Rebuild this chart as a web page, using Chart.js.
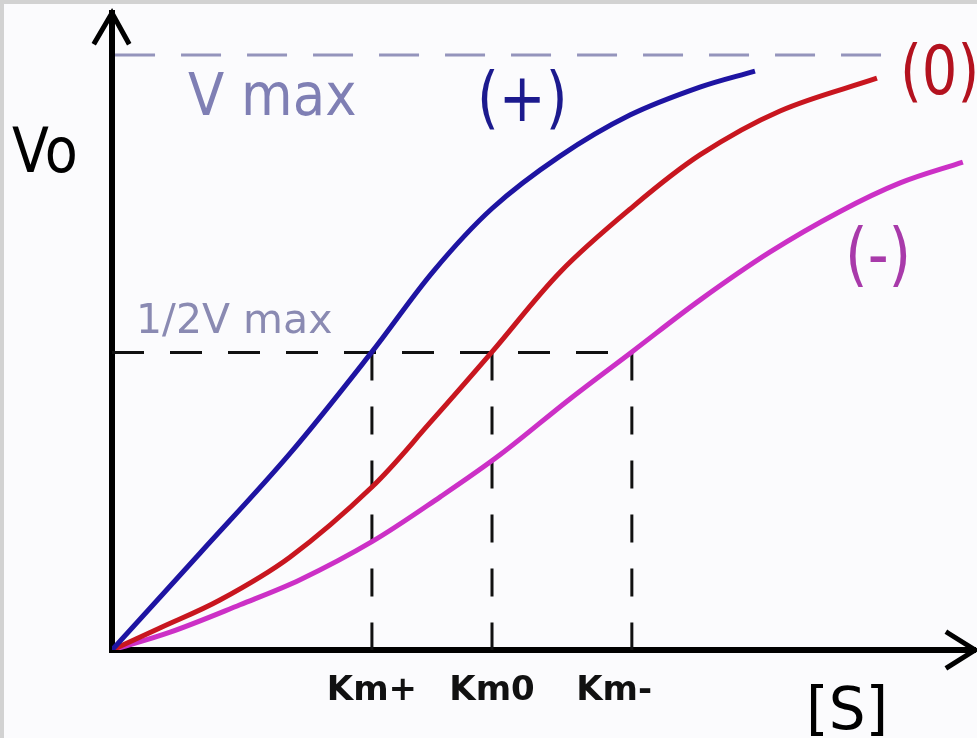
<!DOCTYPE html>
<html>
<head>
<meta charset="utf-8">
<script src="https://cdn.jsdelivr.net/npm/chart.js@4.4.1/dist/chart.umd.min.js"></script>
<style>
  html, body { margin: 0; padding: 0; background: #fbfbfd; }
  #wrap { width: 977px; height: 738px; position: relative; }
</style>
</head>
<body>
<div id="wrap"><canvas id="kinetics"></canvas></div>
<script>
'use strict';

// [S] in units of Km0, Vo as a fraction of Vmax
const S_ACT = [0, 0.232, 0.468, 0.684, 0.845, 1.0, 1.179, 1.363, 1.547, 1.692];
const V_ACT = [0, 0.163, 0.330, 0.501, 0.636, 0.742, 0.830, 0.899, 0.946, 0.973];

const S_NONE = [0, 0.126, 0.284, 0.468, 0.684, 0.837, 1.0, 1.179, 1.363, 1.547, 1.758, 2.013];
const V_NONE = [0, 0.037, 0.084, 0.156, 0.274, 0.382, 0.501, 0.635, 0.741, 0.832, 0.906, 0.961];

const S_INH = [0, 0.153, 0.337, 0.495, 0.684, 0.863, 1.021, 1.205, 1.368, 1.547, 1.732, 1.916, 2.074, 2.239];
const V_INH = [0, 0.030, 0.076, 0.118, 0.182, 0.257, 0.328, 0.422, 0.501, 0.588, 0.669, 0.737, 0.785, 0.820];

const KM_VALUES = [0.684, 1.0, 1.368];
const KM_LABELS = ['Km+', 'Km0', 'Km-   '];

const VMAX = 1.0;
const HALF_VMAX = 0.5;
const VMAX_LINE = [0.008, 2.07];
const S_MAX = 2.271;
const V_MAX_AXIS = 1.0706;

const toPts = (xs, ys) => xs.map((x, i) => ({ x: x, y: ys[i] }));

const curve = (label, xs, ys, color) => ({
  label: label,
  data: toPts(xs, ys),
  borderColor: color,
  borderWidth: 5,
  showLine: true,
  pointRadius: 0,
  tension: 0.35,
  order: 1,
});

const dashed = (data, color, width, dash) => ({
  data: data,
  borderColor: color,
  borderWidth: width,
  borderDash: dash,
  showLine: true,
  pointRadius: 0,
  order: 2,
});

const datasets = [
  curve('(+)', S_ACT, V_ACT, '#1e14a2'),
  curve('(0)', S_NONE, V_NONE, '#c8161f'),
  curve('(-)', S_INH, V_INH, '#cc30c6'),
  dashed([{ x: VMAX_LINE[0], y: VMAX }, { x: VMAX_LINE[1], y: VMAX }], '#9494bc', 3, [40, 26]),
  dashed([{ x: 0, y: HALF_VMAX }, { x: KM_VALUES[2], y: HALF_VMAX }], '#111', 3, [32, 26]),
];
KM_VALUES.forEach((k) => {
  datasets.push(dashed([{ x: k, y: HALF_VMAX }, { x: k, y: 0 }], '#111', 3, [28, 26]));
});

// free text on the figure
const NOTES = [
  { text: 'Vo', x: 12, y: 172, size: 54, sy: 1.15, color: '#000' },
  { text: 'V max', x: 188, y: 115, size: 53, sy: 1.12, color: '#7f7fb4' },
  { text: '(+)', x: 477, y: 121, size: 56, sy: 1.2, color: '#1c1a8e' },
  { text: '(0)', x: 900, y: 94, size: 56, sy: 1.2, color: '#b3121f' },
  { text: '(-)', x: 845, y: 278, size: 58, sy: 1.2, color: '#a83aaa' },
  { text: '1/2V max', x: 136, y: 333, size: 41, sy: 1, color: '#8a8ab2' },
  { text: '[S]', x: 806, y: 729, size: 58, sy: 1, color: '#000' },
];

const decor = {
  id: 'decor',
  beforeDraw(chart) {
    const ctx = chart.ctx;
    ctx.save();
    ctx.fillStyle = '#fbfbfd';
    ctx.fillRect(0, 0, chart.width, chart.height);
    ctx.fillStyle = '#d2d2d2';
    ctx.fillRect(0, 0, chart.width, 4);
    ctx.fillRect(0, 0, 4, chart.height);
    ctx.restore();
  },
  afterDraw(chart) {
    const ctx = chart.ctx;
    const a = chart.chartArea;
    ctx.save();
    ctx.strokeStyle = '#000';
    ctx.lineWidth = 5;
    ctx.lineCap = 'square';
    ctx.beginPath();
    ctx.moveTo(a.left - 17, a.top + 29);
    ctx.lineTo(a.left, a.top);
    ctx.lineTo(a.left + 16, a.top + 29);
    ctx.moveTo(a.right - 27, a.bottom - 17);
    ctx.lineTo(a.right, a.bottom);
    ctx.lineTo(a.right - 27, a.bottom + 17);
    ctx.stroke();

    ctx.textBaseline = 'alphabetic';
    ctx.textAlign = 'left';
    NOTES.forEach((n) => {
      ctx.save();
      ctx.translate(n.x, n.y);
      ctx.scale(1, n.sy);
      ctx.font = n.size + 'px "DejaVu Sans"';
      ctx.fillStyle = n.color;
      ctx.fillText(n.text, 0, 0);
      ctx.restore();
    });
    ctx.restore();
  },
};

new Chart(document.getElementById('kinetics').getContext('2d'), {
  type: 'scatter',
  data: { datasets: datasets },
  options: {
    responsive: true,
    maintainAspectRatio: false,
    animation: false,
    layout: { padding: { top: 13, right: 2, left: 0, bottom: 0 } },
    plugins: { legend: { display: false }, tooltip: { enabled: false } },
    scales: {
      x: {
        type: 'linear',
        min: 0,
        max: S_MAX,
        grid: { display: false, drawTicks: false },
        border: { display: true, color: '#000', width: 6 },
        afterBuildTicks: (scale) => { scale.ticks = KM_VALUES.map((v) => ({ value: v })); },
        afterFit: (scale) => { scale.height = 88; },
        ticks: {
          autoSkip: false,
          maxRotation: 0,
          padding: 21,
          color: '#111',
          font: { family: 'DejaVu Sans', size: 34, weight: 'bold' },
          callback: (value, i) => KM_LABELS[i],
        },
      },
      y: {
        type: 'linear',
        min: 0,
        max: V_MAX_AXIS,
        grid: { display: false, drawTicks: false },
        border: { display: true, color: '#000', width: 6 },
        ticks: { display: false },
        afterFit: (scale) => { scale.width = 112; },
      },
    },
  },
  plugins: [decor],
});
</script>
</body>
</html>
